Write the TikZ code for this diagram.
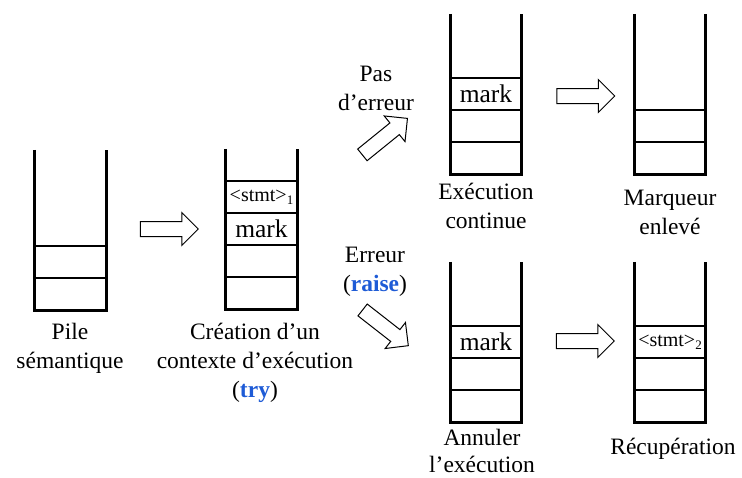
\documentclass[tikz,border=0pt]{standalone}
\usepackage{fontspec}
\setmainfont{Liberation Serif}
\usetikzlibrary{shapes.arrows}
\definecolor{kwblue}{HTML}{1E5BD6}
\tikzset{
  stackframe/.style={rectangle, draw=none, minimum width=71pt, minimum height=160pt, inner sep=0pt},
  wall/.style={line width=3pt, line cap=butt, line join=miter},
  cell/.style={rectangle, draw, line width=1.1pt, minimum width=71pt, minimum height=32pt, inner sep=0pt},
  marktxt/.style={font=\fontsize{25.5}{25.5}\selectfont},
  stmttxt/.style={font=\fontsize{20}{20}\selectfont},
  lbl/.style={align=center, inner sep=0pt, font=\fontsize{23.5}{29}\selectfont},
  barrow/.style={single arrow, draw, line width=1pt, fill=white, inner xsep=0pt, inner ysep=7pt,
    minimum height=58pt, single arrow head extend=9pt, single arrow head indent=0pt, anchor=center},
}
\newcommand{\kw}[1]{\textcolor{kwblue}{\textbf{#1}}}
\newcommand{\stmtsub}[1]{<stmt>\raisebox{-0.35ex}{\fontsize{13}{13}\selectfont #1}}
\begin{document}
\begin{tikzpicture}[x=1pt,y=-1pt]
\useasboundingbox (0,0) rectangle (742,477);
% stack frames
\node[stackframe] (s1) at (70.5,230) {};
\node[stackframe] (s2) at (261.5,229) {};
\node[stackframe] (s3) at (486,94) {};
\node[stackframe] (s4) at (670,94) {};
\node[stackframe] (s5) at (486,342) {};
\node[stackframe] (s6) at (670,342) {};
% cells
\node[cell] (s1a) at (70.5,294) {};
\node[cell] (s1b) at (70.5,262) {};
\node[cell] (s2a) at (261.5,293) {};
\node[cell] (s2b) at (261.5,261) {};
\node[cell,marktxt] (s2c) at (261.5,229) {mark};
\node[cell,stmttxt] (s2d) at (261.5,197) {\stmtsub{1}};
\node[cell] (s3a) at (486,158) {};
\node[cell] (s3b) at (486,126) {};
\node[cell,marktxt] (s3c) at (486,94) {mark};
\node[cell] (s4a) at (670,158) {};
\node[cell] (s4b) at (670,126) {};
\node[cell] (s5a) at (486,406) {};
\node[cell] (s5b) at (486,374) {};
\node[cell,marktxt] (s5c) at (486,342) {mark};
\node[cell] (s6a) at (670,406) {};
\node[cell] (s6b) at (670,374) {};
\node[cell,stmttxt] (s6c) at (670,342) {\stmtsub{2}};
% walls
\foreach \s in {s1,s2,s3,s4,s5,s6}{
  \draw[wall] (\s.north west) -- (\s.south west) -- (\s.south east) -- (\s.north east);
}
% block arrows
\node[barrow] (a1) at (165.5,229) {};
\node[barrow] (a2) at (582,96) {};
\node[barrow] (a3) at (581.5,341) {};
\node[barrow, rotate=39] (a4) at (382,139) {};
\node[barrow, rotate=-38] (a5) at (382.5,325.5) {};
% labels
\node[lbl] (l1) at (70,348) {Pile\\sémantique};
\node[lbl] (l2) at (255,363) {Création d’un\\contexte d’exécution\\(\kw{try})};
\node[lbl] (l3) at (486,206) {Exécution\\continue};
\node[lbl] (l4) at (670,212) {Marqueur\\enlevé};
\node[lbl] (l5) at (376,88) {Pas\\d’erreur};
\node[lbl] (l6) at (375,272) {Erreur\\(\kw{raise})};
\node[lbl, font=\fontsize{23.5}{26.5}\selectfont] (l7) at (482,451) {Annuler\\l’exécution};
\node[lbl] (l8) at (673,449) {Récupération};
\end{tikzpicture}
\end{document}
